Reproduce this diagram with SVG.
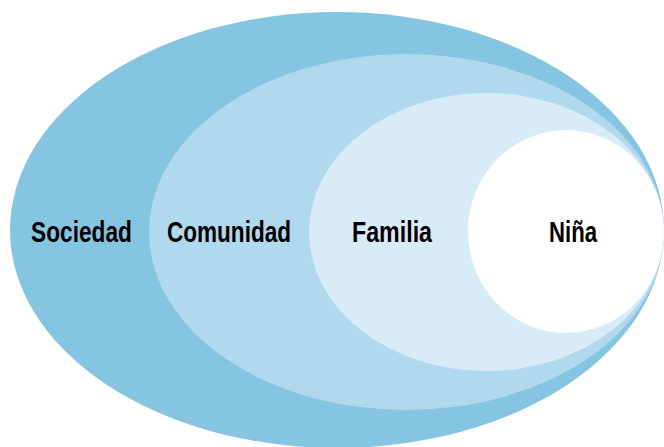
<svg xmlns="http://www.w3.org/2000/svg" width="664" height="447" viewBox="0 0 664 447">
<style>
.lbl{font-family:"Liberation Sans Narrow","Liberation Sans",Arial,sans-serif;font-weight:bold;font-size:29px;fill:#000}
</style>
<rect width="664" height="447" fill="#fff"/>
<g id="sociedad">
<ellipse cx="337" cy="230" rx="327" ry="218" fill="#86C5E2"/>
<text class="lbl" x="31" y="242" textLength="101" lengthAdjust="spacingAndGlyphs">Sociedad</text>
</g>
<g id="comunidad">
<ellipse cx="406.5" cy="232" rx="257.5" ry="178" fill="#B0D9ED"/>
<text class="lbl" x="167" y="242" textLength="124" lengthAdjust="spacingAndGlyphs">Comunidad</text>
</g>
<g id="familia">
<ellipse cx="486.5" cy="232" rx="177.5" ry="139" fill="#D8ECF7"/>
<text class="lbl" x="352" y="242" textLength="80" lengthAdjust="spacingAndGlyphs">Familia</text>
</g>
<g id="nina">
<ellipse cx="566" cy="231.5" rx="98" ry="101.5" fill="#FFFFFF"/>
<text class="lbl" x="549" y="242" textLength="48" lengthAdjust="spacingAndGlyphs">Niña</text>
</g>
<g id="connectors"/>
</svg>
